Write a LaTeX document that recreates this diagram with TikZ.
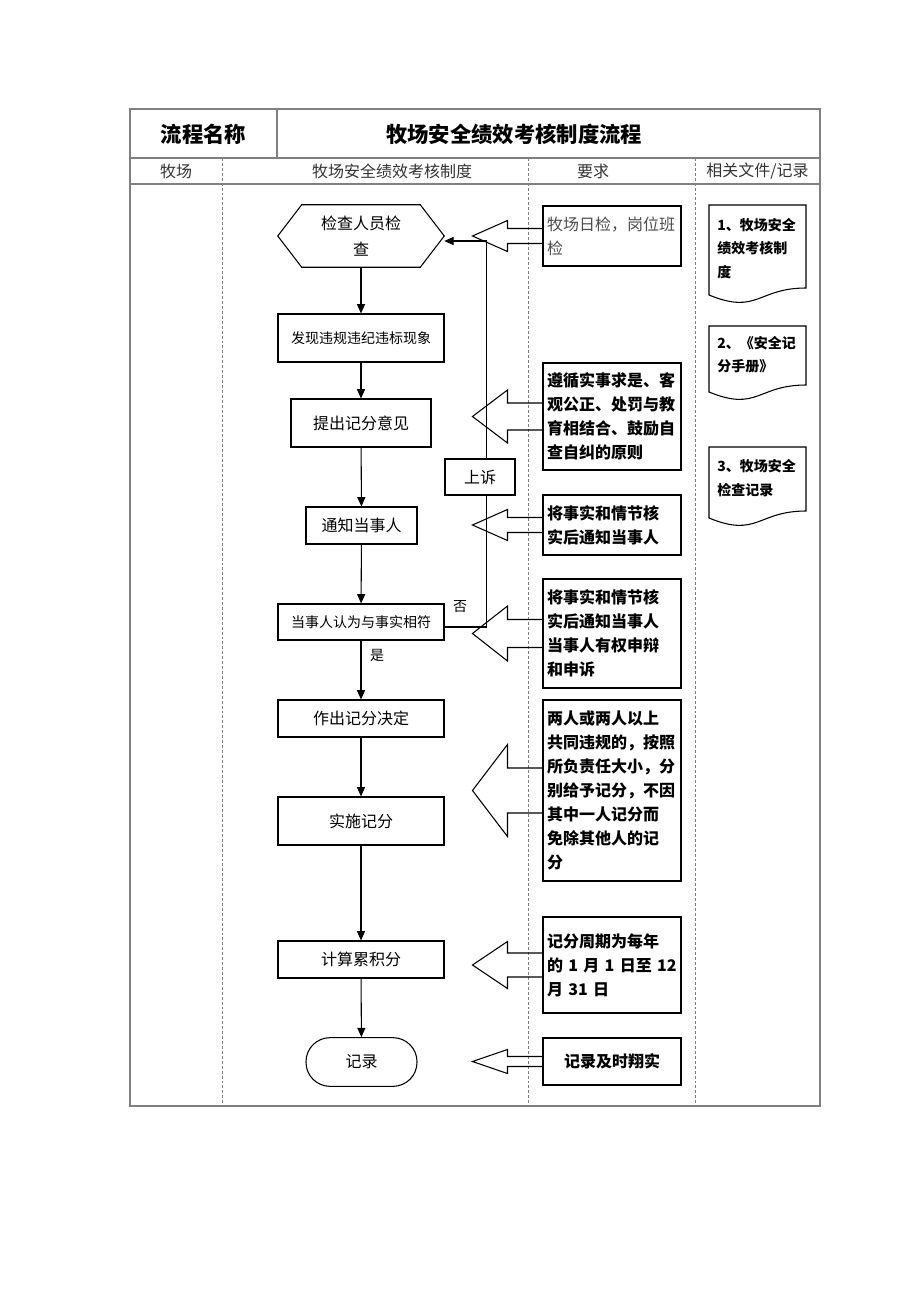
\documentclass[tikz,border=0pt]{standalone}
\usepackage{fontspec}
\setmainfont{Noto Sans CJK SC}
\usetikzlibrary{arrows.meta}

\begin{document}
\begin{tikzpicture}[x=0.75pt,y=-0.75pt,
  frame/.style={draw=black!50,line width=1.1pt},
  lane/.style={draw=black!50,line width=0.7pt,dash pattern=on 2.2pt off 1.5pt},
  stepbox/.style={draw,line width=0.8pt,minimum width=124.5pt,inner sep=2pt,font=\fontsize{12}{18}\selectfont},
  reqbox/.style={draw,line width=0.8pt,align=left,text width=97.5pt,inner xsep=3pt,font=\bfseries\fontsize{12}{18}\selectfont},
  doctext/.style={anchor=west,align=left,inner sep=0pt,font=\bfseries\fontsize{10.5}{17.5}\selectfont},
  flow/.style={-{Triangle[length=7pt,width=6pt]},line width=0.8pt},
  hollow/.style={line width=0.8pt}]
\useasboundingbox (0,0) rectangle (920,1302);

\draw[frame] (130,109) rectangle (820,1106);
\draw[frame] (130,158) -- (820,158);
\draw[frame] (130,184) -- (820,184);
\draw[frame] (277,109) -- (277,158);
\draw[lane] (222,158) -- (222,1106);
\draw[lane] (528,158) -- (528,1106);
\draw[lane] (695,158) -- (695,1106);

\node[font=\bfseries\fontsize{16}{18}\selectfont] (name) at (203.5,134) {流程名称};
\node[font=\bfseries\fontsize{16}{18}\selectfont] (title) at (514,134) {牧场安全绩效考核制度流程};
\node[font=\fontsize{12}{14}\selectfont,text=black!80] (lane1) at (176,171) {牧场};
\node[font=\fontsize{12}{14}\selectfont,text=black!80] (lane2) at (392,171) {牧场安全绩效考核制度};
\node[font=\fontsize{12}{14}\selectfont,text=black!80] (lane3) at (593,171) {要求};
\node[font=\fontsize{12}{14}\selectfont,text=black!80] (lane4) at (757.5,171) {相关文件/记录};

\node[minimum width=124.5pt,minimum height=46.5pt,align=center,font=\fontsize{12}{19}\selectfont] (check) at (361,236) {检查人员检\\查};
\draw[line width=0.8pt] ([xshift=18pt]check.north west) -- ([xshift=-18pt]check.north east) -- (check.east)
  -- ([xshift=-18pt]check.south east) -- ([xshift=18pt]check.south west) -- (check.west) -- cycle;
\node[stepbox,minimum height=36pt,font=\fontsize{10.5}{14}\selectfont] (find) at (361,338) {发现违规违纪违标现象};
\node[stepbox,minimum width=105pt,minimum height=36pt] (propose) at (361,423) {提出记分意见};
\node[stepbox,minimum width=83.25pt,minimum height=27.75pt] (notify) at (361.5,525.5) {通知当事人};
\node[stepbox,minimum height=27pt,font=\fontsize{10.5}{14}\selectfont] (party) at (361,622) {当事人认为与事实相符};
\node[stepbox,minimum height=27.75pt] (decide) at (361,718.5) {作出记分决定};
\node[stepbox,minimum height=36pt] (apply) at (361,821) {实施记分};
\node[stepbox,minimum height=27.75pt] (total) at (361,959.5) {计算累积分};
\node[stepbox,minimum width=83.25pt,minimum height=36.5pt,rounded corners=18pt] (record) at (361.5,1062) {记录};
\node[stepbox,minimum width=52.5pt,minimum height=27pt] (appeal) at (480,477) {上诉};

\draw[flow] (check) -- (find);
\draw[flow] (find) -- (propose);
\draw[flow] (propose) -- (notify);
\draw[flow] (notify) -- (party);
\draw[flow] (party) -- (decide);
\draw[flow] (decide) -- (apply);
\draw[flow] (apply) -- (total);
\draw[flow] (total) -- (record);

\node[font=\fontsize{10.5}{12}\selectfont] (no) at (460,606.5) {否};
\node[font=\fontsize{10.5}{12}\selectfont] (yes) at (377,655) {是};
\coordinate (turn) at (486.5,627);
\coordinate (back) at (486.5,241);
\draw[line width=0.8pt] (party.east |- turn) -- (turn) -- (turn |- appeal.south);
\draw[flow] (turn |- appeal.north) -- (back) -- (check.east |- back);

\node[reqbox,font=\fontsize{12}{18}\selectfont,text=black!70,minimum height=45pt] (daily) at (612,236) {牧场日检，岗位班\\检};
\node[reqbox,minimum height=80.25pt] (rule) at (612,416.5) {遵循实事求是、客\\观公正、处罚与教\\育相结合、鼓励自\\查自纠的原则};
\node[reqbox,minimum height=45pt] (inform) at (612,525) {将事实和情节核\\实后通知当事人};
\node[reqbox,minimum height=81.75pt] (defend) at (612,633.5) {将事实和情节核\\实后通知当事人\\当事人有权申辩\\和申诉};
\node[reqbox,minimum height=135.75pt] (joint) at (612,790.5) {两人或两人以上\\共同违规的，按照\\所负责任大小，分\\别给予记分，不因\\其中一人记分而\\免除其他人的记\\分};
\node[reqbox,minimum height=72pt] (period) at (612,965) {记分周期为每年\\的 1 月 1 日至 12\\月 31 日};
\node[reqbox,align=center,minimum height=35.25pt] (timely) at (612,1061.5) {记录及时翔实};

\draw[hollow] (daily.west) ++(0,-7.5) -- ++(-35,0) -- ++(0,-8) -- ++(-35,15.5) -- ++(35,15.5) -- ++(0,-8) -- ++(35,0);
\draw[hollow] (rule.west) ++(0,-13.5) -- ++(-35,0) -- ++(0,-13) -- ++(-35,26.5) -- ++(35,26.5) -- ++(0,-13) -- ++(35,0);
\draw[hollow] (inform.west) ++(0,-7.5) -- ++(-35,0) -- ++(0,-8) -- ++(-35,15.5) -- ++(35,15.5) -- ++(0,-8) -- ++(35,0);
\draw[hollow] (defend.west) ++(0,-14) -- ++(-35,0) -- ++(0,-13.5) -- ++(-35,27.5) -- ++(35,27.5) -- ++(0,-13.5) -- ++(35,0);
\draw[hollow] (joint.west) ++(0,-22.5) -- ++(-35,0) -- ++(0,-23.5) -- ++(-35,46) -- ++(35,46) -- ++(0,-23.5) -- ++(35,0);
\draw[hollow] (period.west) ++(0,-12) -- ++(-35,0) -- ++(0,-11.5) -- ++(-35,23.5) -- ++(35,23.5) -- ++(0,-11.5) -- ++(35,0);
\draw[hollow] (timely.west) ++(0,-5) -- ++(-35,0) -- ++(0,-7) -- ++(-35,12) -- ++(35,12) -- ++(0,-7) -- ++(35,0);

\draw[line width=0.8pt] (709,205) -- (806,205) -- (806,288) .. controls (757.5,288) and (757.5,315) .. (709,295) -- cycle;
\draw[line width=0.8pt] (709,326) -- (806,326) -- (806,385) .. controls (757.5,385) and (757.5,412) .. (709,392) -- cycle;
\draw[line width=0.8pt] (709,447) -- (806,447) -- (806,511) .. controls (757.5,511) and (757.5,538) .. (709,518) -- cycle;
\node[doctext] (doc1) at (717,248.5) {1、牧场安全\\绩效考核制\\度};
\node[doctext] (doc2) at (717,355) {2、《安全记\\分手册》};
\node[doctext] (doc3) at (717,478) {3、牧场安全\\检查记录};
\end{tikzpicture}
\end{document}
